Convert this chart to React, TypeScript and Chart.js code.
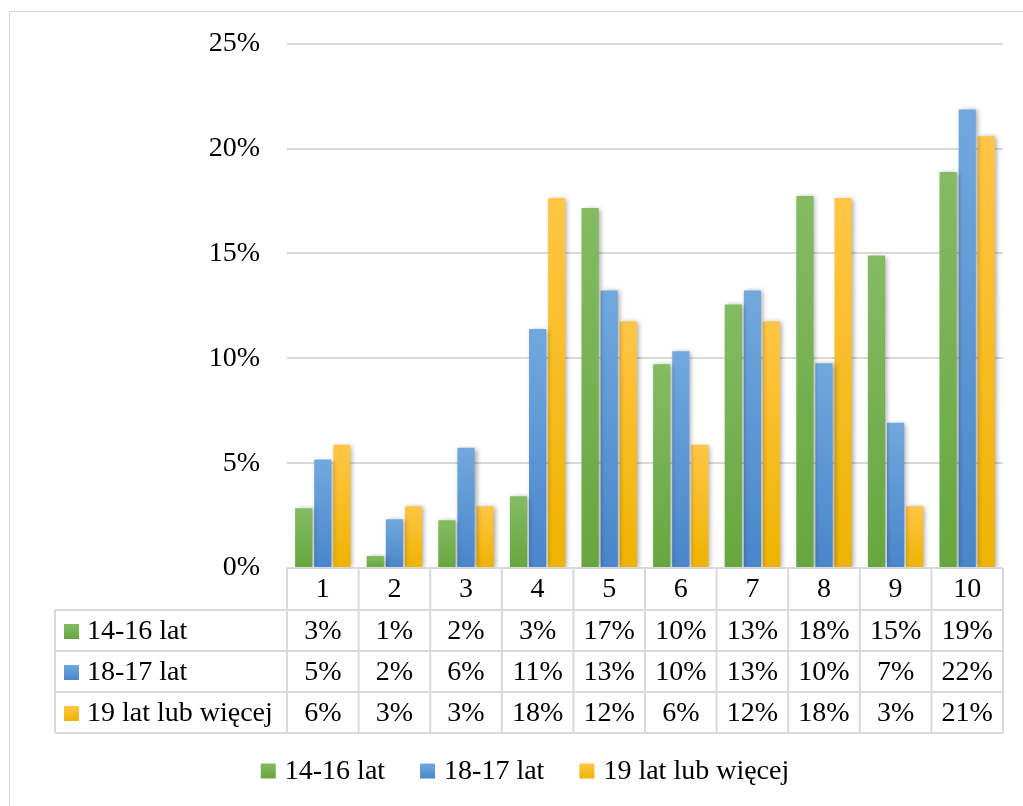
import React, { useEffect, useRef } from "react";
import { Chart, registerables } from "chart.js";

Chart.register(...registerables);

const categories = ["1", "2", "3", "4", "5", "6", "7", "8", "9", "10"];
const seriesNames = ["14-16 lat", "18-17 lat", "19 lat lub więcej"];
const green1416 = [2.85, 0.57, 2.28, 3.42, 17.17, 9.72, 12.57, 17.74, 14.9, 18.88];
const blue1817 = [5.17, 2.32, 5.74, 11.4, 13.24, 10.34, 13.24, 9.77, 6.93, 21.87];
const yellow19 = [5.88, 2.94, 2.94, 17.65, 11.76, 5.88, 11.76, 17.65, 2.94, 20.59];
const yTicks = [0, 5, 10, 15, 20, 25];

const FONT = "'Liberation Serif', 'Times New Roman', serif";
const FS = 28;
const LINE = "#d9d9d9";
const topColors = ["#84bb63", "#71a9de", "#ffc646"];
const bottomColors = ["#67a63f", "#4985c9", "#efb300"];

function grad(i: number) {
  return (c: any) => {
    const chart = c.chart;
    if (!chart.chartArea || c.type !== "data") return bottomColors[i];
    const ys = chart.scales.y;
    const yTop = ys.getPixelForValue(c.raw);
    const yBot = ys.getPixelForValue(0);
    if (!(yBot > yTop)) return bottomColors[i];
    const g = chart.ctx.createLinearGradient(0, yTop, 0, yBot);
    g.addColorStop(0, topColors[i]);
    g.addColorStop(1, bottomColors[i]);
    return g;
  };
}

function swatch(ctx: CanvasRenderingContext2D, x: number, yc: number, i: number) {
  const g = ctx.createLinearGradient(0, yc - 7.5, 0, yc + 7.5);
  g.addColorStop(0, topColors[i]);
  g.addColorStop(1, bottomColors[i]);
  ctx.fillStyle = g;
  ctx.fillRect(x, yc - 7.5, 15, 15);
}

const shadowPlugin = {
  id: "barShadow",
  beforeDatasetsDraw(chart: any) {
    const ctx = chart.ctx;
    ctx.save();
    ctx.shadowColor = "rgba(0,0,0,0.35)";
    ctx.shadowBlur = 5;
    ctx.shadowOffsetX = 2;
    ctx.shadowOffsetY = 1;
  },
  afterDatasetsDraw(chart: any) {
    chart.ctx.restore();
  },
};

const tablePlugin = {
  id: "dataTable",
  afterDraw(chart: any) {
    const ctx: CanvasRenderingContext2D = chart.ctx;
    const area = chart.chartArea;
    const n = categories.length;
    const step = (area.right - area.left) / n;
    const labelLeft = 55;
    const rowTops = [area.bottom, area.bottom + 42, area.bottom + 83, area.bottom + 124, area.bottom + 165];
    const series = [green1416, blue1817, yellow19];

    ctx.save();
    // outer border
    ctx.strokeStyle = LINE;
    ctx.lineWidth = 1;
    ctx.strokeRect(9.5, 11.5, 1200, 1000);

    ctx.lineWidth = 2;
    ctx.strokeStyle = LINE;
    ctx.beginPath();
    ctx.moveTo(area.left, rowTops[0]);
    ctx.lineTo(area.right, rowTops[0]);
    for (let r = 1; r < rowTops.length; r++) {
      ctx.moveTo(labelLeft, rowTops[r]);
      ctx.lineTo(area.right, rowTops[r]);
    }
    ctx.moveTo(labelLeft, rowTops[1]);
    ctx.lineTo(labelLeft, rowTops[4]);
    for (let i = 0; i <= n; i++) {
      const x = area.left + i * step;
      ctx.moveTo(x, rowTops[0]);
      ctx.lineTo(x, rowTops[4]);
    }
    ctx.stroke();

    ctx.fillStyle = "#000";
    ctx.font = `${FS}px ${FONT}`;
    ctx.textBaseline = "middle";
    ctx.textAlign = "center";
    for (let i = 0; i < n; i++) {
      const xc = area.left + (i + 0.5) * step;
      ctx.fillText(categories[i], xc, (rowTops[0] + rowTops[1]) / 2 + 1);
      for (let s = 0; s < 3; s++) {
        const yc = (rowTops[s + 1] + rowTops[s + 2]) / 2 + 1;
        ctx.fillText(Math.round(series[s][i]) + "%", xc, yc);
      }
    }
    ctx.textAlign = "left";
    for (let s = 0; s < 3; s++) {
      const yc = (rowTops[s + 1] + rowTops[s + 2]) / 2 + 1;
      swatch(ctx, 64, yc, s);
      ctx.fillStyle = "#000";
      ctx.fillText(seriesNames[s], 87, yc);
    }

    // bottom legend
    const widths = seriesNames.map((t) => ctx.measureText(t).width);
    const total = widths.reduce((a, b) => a + b, 0) + 3 * (15 + 9) + 2 * 35;
    let x = 525 - total / 2;
    const ly = 771;
    for (let s = 0; s < 3; s++) {
      swatch(ctx, x, ly, s);
      ctx.fillStyle = "#000";
      ctx.fillText(seriesNames[s], x + 24, ly + 1);
      x += 24 + widths[s] + 35;
    }
    ctx.restore();
  },
};

export default function App() {
  const ref = useRef<HTMLCanvasElement>(null);
  useEffect(() => {
    document.body.style.margin = "0";
    const chart = new Chart(ref.current!, {
      type: "bar",
      data: {
        labels: categories,
        datasets: [green1416, blue1817, yellow19].map((d, i) => ({
          label: seriesNames[i],
          data: d,
          backgroundColor: grad(i),
          borderWidth: 0,
          categoryPercentage: 0.8,
          barPercentage: 0.9,
        })),
      },
      options: {
        animation: false,
        responsive: false,
        devicePixelRatio: 1,
        layout: { padding: { left: 0, top: 41, right: 20, bottom: 238 } },
        plugins: { legend: { display: false }, tooltip: { enabled: false } },
        scales: {
          x: { display: false },
          y: {
            min: 0,
            max: 25,
            afterFit: (s: any) => {
              s.width = 287;
            },
            afterBuildTicks: (s: any) => {
              s.ticks = yTicks.map((v) => ({ value: v }));
            },
            border: { display: false },
            grid: { color: LINE, lineWidth: 2, drawTicks: false },
            ticks: {
              padding: 27,
              color: "#000",
              font: { family: FONT, size: FS },
              callback: (v: any) => v + "%",
            },
          },
        },
      },
      plugins: [shadowPlugin, tablePlugin],
    });
    return () => chart.destroy();
  }, []);
  return (
    <canvas
      ref={ref}
      width={1023}
      height={806}
      style={{ display: "block", position: "fixed", left: 0, top: 0 }}
    />
  );
}
